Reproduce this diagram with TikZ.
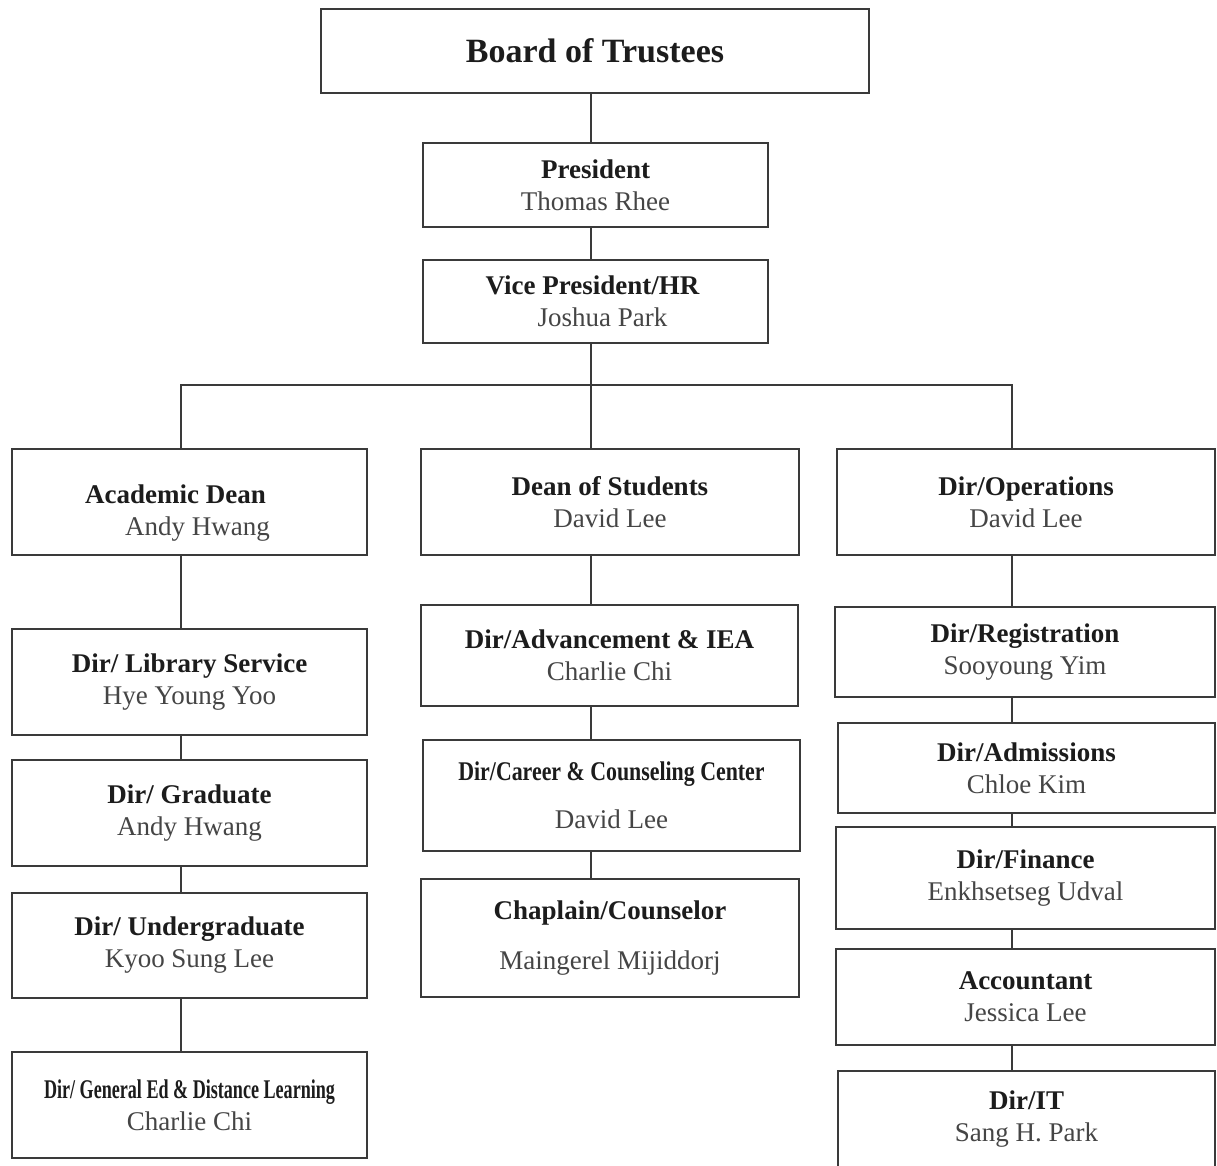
\documentclass[tikz,border=0pt]{standalone}
\usepackage{fontspec}
\setmainfont{Liberation Serif}
\usepackage{graphicx}
\definecolor{lineGray}{HTML}{3A3A3A}
\definecolor{nameGray}{HTML}{454545}
\definecolor{titleBlack}{HTML}{1C1C1C}
\newcommand{\roletext}[2]{{\bfseries\color{titleBlack}#1}\\{\color{nameGray}#2}}
\begin{document}
\begin{tikzpicture}
[x=1pt,y=-1pt,
  boxDecorate/.style={shape=rectangle,draw=lineGray,line width=1.8pt,inner sep=0pt,
    align=center,font=\fontsize{27}{32}\selectfont},
  boxSize/.style 2 args={minimum width=#1pt,minimum height=#2pt},
  lineDecorate/.style={-,draw=lineGray,line width=1.8pt}]
\useasboundingbox (0,0) rectangle (1217,1165);
\fill[white] (0,0) rectangle (1217,1165);
%% top of the chart
\node (board) at (595,51) [boxDecorate,boxSize={548}{84},font=\fontsize{34}{40}\selectfont]
  {\bfseries\color{titleBlack}Board of Trustees};
\node (pres) at (595.5,185) [boxDecorate,boxSize={345}{84}] {\roletext{President}{Thomas Rhee}};
\node (vp) at (595.5,301.5) [boxDecorate,boxSize={345}{83}] {\roletext{Vice President/HR\hspace*{6pt}}{\hspace*{14pt}Joshua Park}};
%% left column
\node (acad) at (189.5,502) [boxDecorate,boxSize={355}{106}]
  {\roletext{\rule{0pt}{40pt}Academic Dean\hspace*{28pt}}{\hspace*{16pt}Andy Hwang}};
\node (lib) at (189.5,682) [boxDecorate,boxSize={355}{106}] {\roletext{Dir/ Library Service}{Hye Young Yoo}};
\node (grad) at (189.5,813) [boxDecorate,boxSize={355}{106}] {\roletext{Dir/ Graduate}{Andy Hwang}};
\node (ugrad) at (189.5,945.5) [boxDecorate,boxSize={355}{105}] {\roletext{Dir/ Undergraduate}{Kyoo Sung Lee}};
\node (gened) at (189.5,1105) [boxDecorate,boxSize={355}{106}]
  {\roletext{\scalebox{0.67}[1]{Dir/ General Ed \& Distance Learning}}{Charlie Chi}};
%% middle column
\node (dos) at (610,502) [boxDecorate,boxSize={378}{106}] {\roletext{Dean of Students}{David Lee}};
\node (adv) at (609.5,655.5) [boxDecorate,boxSize={377}{101}] {\roletext{Dir/Advancement \& IEA}{Charlie Chi}};
\node (career) at (611.5,795.5) [boxDecorate,boxSize={377}{111}]
  {{\bfseries\color{titleBlack}\scalebox{0.81}[1]{Dir/Career \& Counseling Center}}\\[16pt]{\color{nameGray}David Lee}};
\node (chap) at (610,938) [boxDecorate,boxSize={378}{118}]
  {{\bfseries\color{titleBlack}Chaplain/Counselor}\\[18pt]{\color{nameGray}Maingerel Mijiddorj}};
%% right column
\node (ops) at (1026,502) [boxDecorate,boxSize={378}{106}] {\roletext{Dir/Operations}{David Lee}};
\node (reg) at (1025,652) [boxDecorate,boxSize={380}{90}] {\roletext{Dir/Registration}{Sooyoung Yim}};
\node (adm) at (1026.5,768) [boxDecorate,boxSize={377}{90}] {\roletext{Dir/Admissions}{Chloe Kim}};
\node (fin) at (1025.5,878) [boxDecorate,boxSize={379}{102}] {\roletext{Dir/Finance}{Enkhsetseg Udval}};
\node (acct) at (1025.5,997) [boxDecorate,boxSize={379}{96}] {\roletext{Accountant}{Jessica Lee}};
\node (it) at (1026.5,1119) [boxDecorate,boxSize={377}{96}] {\roletext{Dir/IT}{Sang H. Park}};
%% edges or lines
\coordinate (colL) at (181,0);
\coordinate (colM) at (591,0);
\coordinate (colR) at (1012,0);
\coordinate (bus) at (0,385);
\foreach \startnode/\endnode in {board/pres, pres/vp, vp/dos, dos/adv, adv/career, career/chap}
{
  \draw[lineDecorate] (\startnode.south -| colM) -- (\endnode.north -| colM);
}
\foreach \startnode/\endnode in {acad/lib, lib/grad, grad/ugrad, ugrad/gened}
{
  \draw[lineDecorate] (\startnode.south -| colL) -- (\endnode.north -| colL);
}
\foreach \startnode/\endnode in {ops/reg, reg/adm, adm/fin, fin/acct, acct/it}
{
  \draw[lineDecorate] (\startnode.south -| colR) -- (\endnode.north -| colR);
}
\draw[lineDecorate] (acad.north -| colL) -- (colL |- bus) -- (colR |- bus) -- (ops.north -| colR);
\end{tikzpicture}
\end{document}
